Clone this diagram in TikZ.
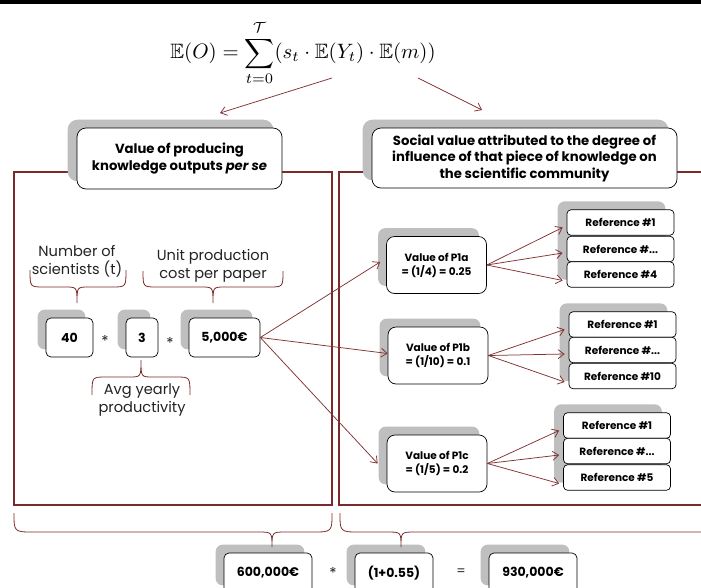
\documentclass[tikz,border=0pt]{standalone}
\usepackage{amsmath,amssymb}
\usepackage[no-math]{fontspec}
\setmainfont{Poppins}
\usetikzlibrary{arrows.meta}
\definecolor{maroon}{RGB}{122,42,42}
\definecolor{arrowred}{RGB}{130,50,50}
\definecolor{shadowgray}{RGB}{191,191,191}
\definecolor{txt}{RGB}{35,35,35}
\pgfdeclarelayer{panel}
\pgfdeclarelayer{shadowlayer}
\pgfsetlayers{panel,shadowlayer,main}
% x1, x2, y-ends, y-line, x-tip, y-tip, end radius, tip radius
\newcommand\bracedn[8]{\draw[bracestyle] (#1,#3) .. controls (#1,#4) .. (#1+#7,#4) -- (#5-#8,#4) .. controls (#5,#4) .. (#5,#6) .. controls (#5,#4) .. (#5+#8,#4) -- (#2-#7,#4) .. controls (#2,#4) .. (#2,#3);}
\newcommand\dropshade[1]{\fill[shadowgray, rounded corners=7pt] ([shift={(-8,-8)}]#1.north west) rectangle ([shift={(-8,-8)}]#1.south east);}
\tikzset{
  hbox/.style={draw=black, line width=0.7pt, fill=white, rounded corners=9pt, align=center, inner sep=0pt, text=black, font=\bfseries\fontsize{13.2}{16.5}\selectfont},
  nbox/.style={draw=black, line width=0.7pt, fill=white, rounded corners=5pt, inner sep=0pt, minimum height=39pt, text=black, font=\bfseries\fontsize{12.5}{15}\selectfont},
  pbox/.style={draw=black, line width=0.7pt, fill=white, rounded corners=8pt, inner sep=0pt, minimum width=100pt, minimum height=57pt, align=center, text=black, font=\bfseries\fontsize{10.5}{14}\selectfont},
  rbox/.style={draw=black, line width=0.7pt, fill=white, rounded corners=4pt, inner sep=0pt, minimum width=107pt, minimum height=25.5pt, text=black, font=\bfseries\fontsize{10.5}{12}\selectfont},
  lbl/.style={align=center, inner sep=0pt, text=txt, font=\fontsize{14.6}{18}\selectfont},
  opsign/.style={inner sep=0pt, text=txt, font=\fontsize{15}{16}\selectfont},
  arr/.style={draw=arrowred, line width=0.75pt, -{Straight Barb[length=6pt,width=9pt]}},
  bracestyle/.style={draw=maroon, line width=0.8pt},
  panelline/.style={draw=maroon, line width=2.6pt}
}
\begin{document}
\begin{tikzpicture}[x=1pt,y=-1pt]
\useasboundingbox (0,0) rectangle (701,587);
\clip (0,0) rectangle (701,587);
\fill[black] (0,0) rectangle (701,3.5);

% formula
\node[inner sep=0pt] (eq) at (303,53) {\scalebox{2.08}{$\displaystyle \mathbb{E}(O) = \sum_{t=0}^{\mathcal{T}} (s_t \cdot \mathbb{E}(Y_t) \cdot \mathbb{E}(m))$}};
\coordinate (fa) at (332,78);
\coordinate (fb) at (418,78);
\coordinate (ta) at (220,113);
\coordinate (tb) at (482,110);
\draw[arr] (fa) -- (ta);
\draw[arr] (fb) -- (tb);

% headers
\node[hbox, minimum width=205pt, minimum height=61pt] (hl) at (179.5,158.5) {Value of producing\\knowledge outputs \textit{per se}};
\node[hbox, minimum width=305pt, minimum height=60pt] (hr) at (524.5,158) {Social value attributed to the degree of\\influence of that piece of knowledge on\\the scientific community};

% left panel content
\node[lbl] (lsci) at (77,261) {Number of\\scientists (t)};
\node[lbl] (lcost) at (213,266) {Unit production\\cost per paper};
\node[lbl] (lprod) at (142,400) {Avg yearly\\productivity};
\bracedn{30}{126}{270}{287}{77}{303}{14}{12}
\bracedn{143}{283}{271}{287}{213}{303}{14}{12}
\bracedn{92}{190}{395}{377}{141}{360}{14}{12}

\node[nbox, minimum width=47pt] (n40) at (69.5,337.5) {40};
\node[opsign] (m1) at (105,341) {*};
\node[nbox, minimum width=32pt] (n3) at (142,337.5) {3};
\node[opsign] (m2) at (170,343) {*};
\node[nbox, minimum width=71pt] (fv) at (224.5,337.5) {5,000€};

% right panel content
\node[pbox] (p1a) at (436.5,265) {Value of P1a\\= (1/4) = 0.25};
\node[pbox] (p1b) at (438,355.5) {Value of P1b\\= (1/10) = 0.1};
\node[pbox] (p1c) at (437,463.5) {Value of P1c\\= (1/5) = 0.2};

\node[rbox] (ra1) at (620.5,222.5) {Reference \#1};
\node[rbox] (ra2) at (620.5,249) {Reference \#...};
\node[rbox] (ra3) at (620.5,274.5) {Reference \#4};
\node[rbox] (rb1) at (622.5,324.5) {Reference \#1};
\node[rbox] (rb2) at (622.5,350) {Reference \#...};
\node[rbox] (rb3) at (622.5,376) {Reference \#10};
\node[rbox] (rc1) at (617,425.5) {Reference \#1};
\node[rbox] (rc2) at (617,451) {Reference \#...};
\node[rbox] (rc3) at (617,477.5) {Reference \#5};

\draw[arr] (fv.east) -- ([shift={(-6,-3)}]p1a.west);
\draw[arr] (fv.east) -- ([shift={(0,-2)}]p1b.west);
\draw[arr] (fv.east) -- ([shift={(-9,0)}]p1c.west);
\foreach \p/\r in {p1a/ra, p1b/rb, p1c/rc}{
  \draw[arr] (\p.east) -- ([shift={(-4,5)}]\r1.west);
  \draw[arr] (\p.east) -- ([shift={(-4,4)}]\r2.west);
  \draw[arr] (\p.east) -- ([shift={(-4,6)}]\r3.west);
}

% bottom
\bracedn{14}{332}{513}{532}{272}{547}{20}{14}
\bracedn{340}{740}{513}{532}{401}{547}{20}{14}
\node[nbox, minimum width=88pt, minimum height=40pt] (b1) at (268,573) {600,000€};
\node[opsign] (m3) at (333,573) {*};
\node[nbox, minimum width=78pt, minimum height=40pt] (b2) at (394,573) {(1+0.55)};
\node[opsign, font=\fontsize{13}{14}\selectfont] (eqs) at (461,572) {=};
\node[nbox, minimum width=88pt, minimum height=40pt] (b3) at (533,573) {930,000€};

% shadows
\begin{pgfonlayer}{shadowlayer}
\fill[shadowgray, rounded corners=10pt] ([shift={(-9,-8)}]hl.north west) rectangle ([shift={(-9,-8)}]hl.south east);
\fill[shadowgray, rounded corners=10pt] ([shift={(-9,-8)}]hr.north west) rectangle ([shift={(-9,-8)}]hr.south east);
\dropshade{n40}
\dropshade{n3}
\dropshade{fv}
\dropshade{p1a}
\dropshade{p1b}
\dropshade{p1c}
\dropshade{b1}
\dropshade{b2}
\dropshade{b3}
\fill[shadowgray, rounded corners=7pt] ([shift={(-9,-8)}]ra1.north west) rectangle ([shift={(-9,-8)}]ra3.south east);
\fill[shadowgray, rounded corners=7pt] ([shift={(-9,-8)}]rb1.north west) rectangle ([shift={(-9,-8)}]rb3.south east);
\fill[shadowgray, rounded corners=7pt] ([shift={(-9,-8)}]rc1.north west) rectangle ([shift={(-9,-8)}]rc3.south east);
\end{pgfonlayer}

% panels
\begin{pgfonlayer}{panel}
\draw[panelline] (14,172) rectangle (332,505);
\draw[panelline] (701,172) -- (339,172) -- (339,505) -- (701,505);
\end{pgfonlayer}
\end{tikzpicture}
\end{document}
